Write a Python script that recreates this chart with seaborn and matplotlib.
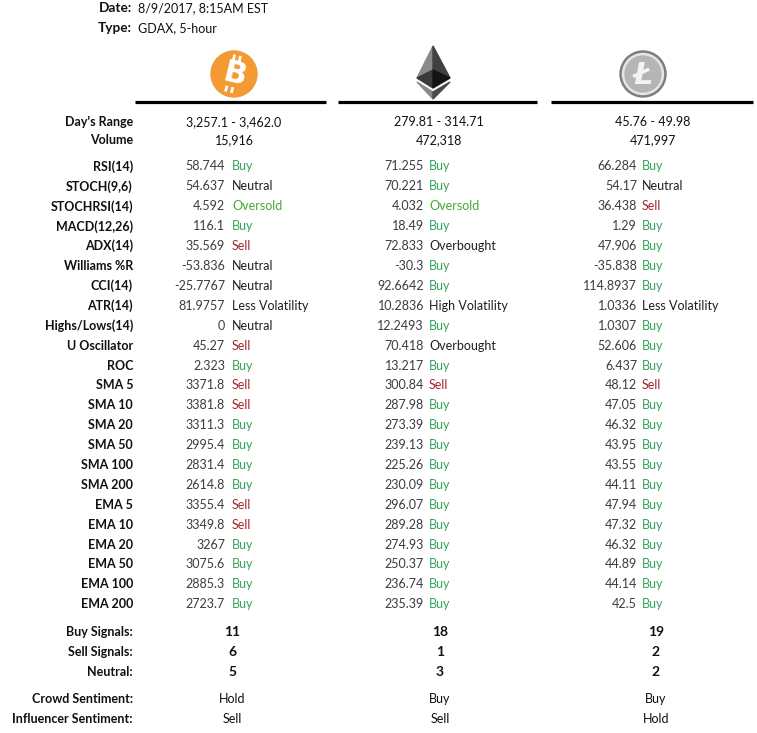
import matplotlib
matplotlib.use("Agg")
import matplotlib.pyplot as plt
import matplotlib.patches as mpatches
import seaborn as sns
import pandas as pd
import numpy as np

# ---------------- data ----------------
header_labels = ["Date:", "Type:"]
header_values = ["8/9/2017, 8:15AM EST", "GDAX, 5-hour"]

coins = ["BTC", "ETH", "LTC"]
day_range = ["3,257.1 - 3,462.0", "279.81 - 314.71", "45.76 - 49.98"]
volume = ["15,916", "472,318", "471,997"]

indicators = ["RSI(14)", "STOCH(9,6)", "STOCHRSI(14)", "MACD(12,26)", "ADX(14)",
              "Williams %R", "CCI(14)", "ATR(14)", "Highs/Lows(14)", "U Oscillator",
              "ROC", "SMA 5", "SMA 10", "SMA 20", "SMA 50", "SMA 100", "SMA 200",
              "EMA 5", "EMA 10", "EMA 20", "EMA 50", "EMA 100", "EMA 200"]

btc_values = ["58.744", "54.637", "4.592", "116.1", "35.569", "-53.836", "-25.7767",
              "81.9757", "0", "45.27", "2.323", "3371.8", "3381.8", "3311.3", "2995.4",
              "2831.4", "2614.8", "3355.4", "3349.8", "3267", "3075.6", "2885.3", "2723.7"]
btc_signals = ["Buy", "Neutral", "Oversold", "Buy", "Sell", "Neutral", "Neutral",
               "Less Volatility", "Neutral", "Sell", "Buy", "Sell", "Sell", "Buy", "Buy",
               "Buy", "Buy", "Sell", "Sell", "Buy", "Buy", "Buy", "Buy"]

eth_values = ["71.255", "70.221", "4.032", "18.49", "72.833", "-30.3", "92.6642",
              "10.2836", "12.2493", "70.418", "13.217", "300.84", "287.98", "273.39",
              "239.13", "225.26", "230.09", "296.07", "289.28", "274.93", "250.37",
              "236.74", "235.39"]
eth_signals = ["Buy", "Buy", "Oversold", "Buy", "Overbought", "Buy", "Buy",
               "High Volatility", "Buy", "Overbought", "Buy", "Sell", "Buy", "Buy", "Buy",
               "Buy", "Buy", "Buy", "Buy", "Buy", "Buy", "Buy", "Buy"]

ltc_values = ["66.284", "54.17", "36.438", "1.29", "47.906", "-35.838", "114.8937",
              "1.0336", "1.0307", "52.606", "6.437", "48.12", "47.05", "46.32", "43.95",
              "43.55", "44.11", "47.94", "47.32", "46.32", "44.89", "44.14", "42.5"]
ltc_signals = ["Buy", "Neutral", "Sell", "Buy", "Buy", "Buy", "Buy",
               "Less Volatility", "Buy", "Buy", "Buy", "Sell", "Buy", "Buy", "Buy",
               "Buy", "Buy", "Buy", "Buy", "Buy", "Buy", "Buy", "Buy"]

summary_labels = ["Buy Signals:", "Sell Signals:", "Neutral:"]
buy_signals = [11, 18, 19]
sell_signals = [6, 1, 2]
neutral_signals = [5, 3, 2]

sentiment_labels = ["Crowd Sentiment:", "Influencer Sentiment:"]
crowd_sentiment = ["Hold", "Buy", "Buy"]
influencer_sentiment = ["Sell", "Sell", "Hold"]

# ---------------- styling ----------------
sns.set_theme(style="white")
plt.rcParams["font.family"] = ["Lato", "DejaVu Sans"]

signal_colors = {"Buy": "#35a45c", "Sell": "#a3262b", "Oversold": "#45a832"}
default_signal = "#1e1e1e"
value_color = "#3c3c3c"
label_color = "#111111"

df = pd.DataFrame({
    "indicator": indicators,
    "BTC_v": btc_values, "BTC_s": btc_signals,
    "ETH_v": eth_values, "ETH_s": eth_signals,
    "LTC_v": ltc_values, "LTC_s": ltc_signals,
})

W, H = 757, 733
fig = plt.figure(figsize=(W / 100, H / 100), dpi=100)
ax = fig.add_axes([0, 0, 1, 1])
ax.set_xlim(0, W)
ax.set_ylim(H, 0)
ax.axis("off")

label_x = 133
value_x = [225, 424, 637]
signal_x = [232, 429, 642]
center_x = [234, 439, 653]
count_x = [232, 440, 656]

fs_label = 9.0
fs_val = 9.0

# header
for i, (lab, val) in enumerate(zip(header_labels, header_values)):
    y = 8 + 20 * i
    ax.text(132, y, lab, ha="right", va="center", fontsize=9.8, fontweight="bold", color=label_color)
    ax.text(138, y, val, ha="left", va="center", fontsize=9.0, color=label_color)

# ---- icons ----
# bitcoin
bx, by = 234, 74
ax.add_patch(mpatches.Circle((bx, by), 23, color="#f39a32", zorder=2))
ax.text(bx + 0.5, by + 1, "B", ha="center", va="center", fontsize=22, fontweight="bold",
        color="white", rotation=-14, zorder=3, family="DejaVu Sans")
th = np.deg2rad(14)
def rot(dx, dy):
    return bx + dx * np.cos(th) - dy * np.sin(th), by + dx * np.sin(th) + dy * np.cos(th)
for dx in (-4, 2):
    for (y0, y1) in [(-19, -13), (13, 19)]:
        p0, p1 = rot(dx, y0), rot(dx, y1)
        ax.plot([p0[0], p1[0]], [p0[1], p1[1]], color="white", lw=2.0, zorder=3,
                solid_capstyle="butt")
# ethereum
ax.add_patch(mpatches.Polygon([(433, 46), (417, 78), (433, 70)], closed=True, color="#8a8a8a", zorder=2))
ax.add_patch(mpatches.Polygon([(433, 46), (450, 78), (433, 70)], closed=True, color="#404040", zorder=2))
ax.add_patch(mpatches.Polygon([(417, 78), (433, 70), (433, 88)], closed=True, color="#3a3a3a", zorder=2))
ax.add_patch(mpatches.Polygon([(450, 78), (433, 70), (433, 88)], closed=True, color="#141414", zorder=2))
ax.add_patch(mpatches.Polygon([(417, 82), (433, 92), (433, 99)], closed=True, color="#8a8a8a", zorder=2))
ax.add_patch(mpatches.Polygon([(450, 82), (433, 92), (433, 99)], closed=True, color="#4a4a4a", zorder=2))
# litecoin
ax.add_patch(mpatches.Circle((643, 74), 23, color="#7d7d7d", zorder=2))
ax.add_patch(mpatches.Circle((643, 74), 20.5, color="#e6e6e6", zorder=2))
ax.add_patch(mpatches.Circle((643, 74), 18, color="#b5b5b5", zorder=2))
ax.text(643, 75, "Ł", ha="center", va="center", fontsize=22, fontweight="bold",
        color="#f4f4f4", zorder=3, family="DejaVu Sans", style="italic")

# header rules
for x0, x1 in [(135, 326), (338, 537), (551, 753)]:
    ax.plot([x0, x1], [102, 102], color="black", lw=2.3, solid_capstyle="butt")

# day's range & volume
ax.text(label_x, 122, "Day's Range", ha="right", va="center", fontsize=fs_label, fontweight="bold", color=label_color)
ax.text(label_x, 140, "Volume", ha="right", va="center", fontsize=fs_label, fontweight="bold", color=label_color)
for c in range(3):
    ax.text(center_x[c], 122, day_range[c], ha="center", va="center", fontsize=fs_val, color=label_color)
    ax.text(center_x[c], 140, volume[c], ha="center", va="center", fontsize=fs_val, color=label_color)

# indicators
for i, row in df.iterrows():
    y = 166.5 + 19.9 * i
    ax.text(label_x, y, row["indicator"], ha="right", va="center", fontsize=fs_label,
            fontweight="bold", color=label_color)
    for c, coin in enumerate(coins):
        ax.text(value_x[c], y, row[f"{coin}_v"], ha="right", va="center", fontsize=fs_val, color=value_color)
        s = row[f"{coin}_s"]
        ax.text(signal_x[c], y, s, ha="left", va="center", fontsize=fs_val,
                color=signal_colors.get(s, default_signal))

# summary counts
for j, (lab, vals) in enumerate(zip(summary_labels, [buy_signals, sell_signals, neutral_signals])):
    y = 632 + 20 * j
    ax.text(label_x, y, lab, ha="right", va="center", fontsize=fs_label, fontweight="bold", color=label_color)
    for c in range(3):
        ax.text(count_x[c], y, str(vals[c]), ha="center", va="center", fontsize=10,
                fontweight="bold", color=label_color)

# sentiment
for j, (lab, vals) in enumerate(zip(sentiment_labels, [crowd_sentiment, influencer_sentiment])):
    y = 699 + 20 * j
    ax.text(label_x, y, lab, ha="right", va="center", fontsize=fs_label, fontweight="bold", color=label_color)
    for c in range(3):
        ax.text(count_x[c], y, vals[c], ha="center", va="center", fontsize=fs_val, color=label_color)

fig.savefig("out.png", dpi=100, facecolor="white")
